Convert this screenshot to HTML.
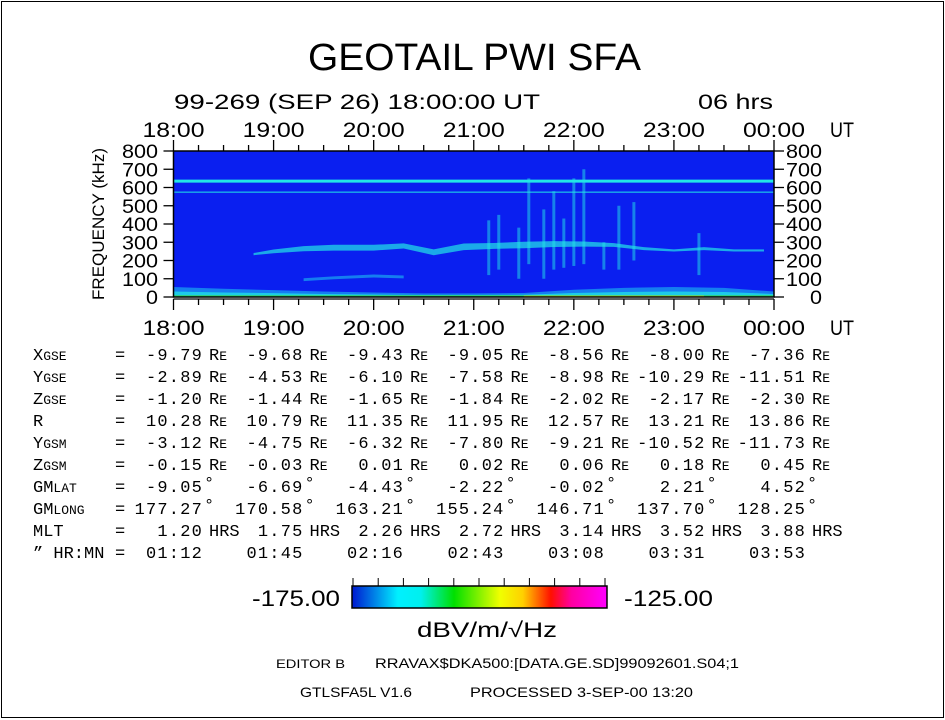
<!DOCTYPE html>
<html><head><meta charset="utf-8">
<style>
html,body{margin:0;padding:0;background:#fff;}
svg{display:block;}
text{font-family:"Liberation Sans",sans-serif;fill:#000;}
.m{font-family:"Liberation Mono",monospace;}
</style></head>
<body>
<svg id="chart" width="945" height="720" viewBox="0 0 945 720" xmlns="http://www.w3.org/2000/svg">
<rect x="1.5" y="1.5" width="942" height="716" fill="#fff" stroke="#000" stroke-width="1"/>
<text x="308" y="70" font-size="38" textLength="333" lengthAdjust="spacingAndGlyphs">GEOTAIL PWI SFA</text>
<text x="174" y="109" font-size="21" textLength="366" lengthAdjust="spacingAndGlyphs">99-269 (SEP 26) 18:00:00 UT</text>
<text x="698" y="109" font-size="21" textLength="75" lengthAdjust="spacingAndGlyphs">06 hrs</text>
<g id="plot"></g>
<g id="table"></g>
<g id="cbar"></g>
<text x="276" y="668" font-size="12" textLength="69" lengthAdjust="spacingAndGlyphs">EDITOR B</text>
<text x="375" y="668" font-size="14" textLength="364" lengthAdjust="spacingAndGlyphs">RRAVAX$DKA500:[DATA.GE.SD]99092601.S04;1</text>
<text x="300" y="697" font-size="14" textLength="112" lengthAdjust="spacingAndGlyphs">GTLSFA5L V1.6</text>
<text x="470" y="697" font-size="14" textLength="223" lengthAdjust="spacingAndGlyphs">PROCESSED  3-SEP-00  13:20</text>
</svg>
<script>
// ---- data ----
const hourLabels = ["18:00","19:00","20:00","21:00","22:00","23:00","00:00"];
const freqTicks = [0,100,200,300,400,500,600,700,800];
// main emission band (hours since 18:00, centre kHz, half-width kHz)
const bandTimes = [0.8,1.0,1.3,1.6,2.0,2.3,2.6,2.9,3.2,3.5,3.8,4.1,4.4,4.7,5.0,5.3,5.6,5.9];
const bandFreqs = [235,250,265,270,270,280,245,275,280,285,290,290,285,265,255,265,255,255];
const bandWidths = [6,10,14,16,16,14,16,18,16,18,16,14,10,8,6,8,6,6];
// low-frequency band (hours, upper kHz)
const lowTimes = [0,0.5,1.0,1.5,2.0,2.5,3.0,3.5,4.0,4.5,5.0,5.5,6.0];
const lowFreqs = [55,45,38,30,25,20,20,22,40,50,55,50,30];
// secondary band around 100 kHz
const midTimes = [1.3,1.6,2.0,2.3];
const midFreqs = [95,105,115,110];
// burst emissions: hour, low kHz, high kHz
const burstTimes = [3.15,3.25,3.45,3.55,3.7,3.8,3.9,4.0,4.1,4.3,4.45,5.25,4.6];
const burstLows = [120,150,100,180,100,150,160,170,180,150,150,120,200];
const burstHighs = [420,450,380,650,480,580,430,650,700,300,500,350,520];
// constant lines (kHz)
const lineFreqs = [635,575];
// colour bar
const cbarMin = -175, cbarMax = -125;
// ephemeris table
const rowLabels = ["X","Y","Z","R","Y","Z","GM","GM","MLT","\u201D HR:MN"];
const rowSubs = ["GSE","GSE","GSE","","GSM","GSM","LAT","LONG","",""];
const rowUnits = ["RE","RE","RE","RE","RE","RE","\u00B0","\u00B0","HRS",""];
const xgse = ["-9.79","-9.68","-9.43","-9.05","-8.56","-8.00","-7.36"];
const ygse = ["-2.89","-4.53","-6.10","-7.58","-8.98","-10.29","-11.51"];
const zgse = ["-1.20","-1.44","-1.65","-1.84","-2.02","-2.17","-2.30"];
const rvals = ["10.28","10.79","11.35","11.95","12.57","13.21","13.86"];
const ygsm = ["-3.12","-4.75","-6.32","-7.80","-9.21","-10.52","-11.73"];
const zgsm = ["-0.15","-0.03","0.01","0.02","0.06","0.18","0.45"];
const gmlat = ["-9.05","-6.69","-4.43","-2.22","-0.02","2.21","4.52"];
const gmlong = ["177.27","170.58","163.21","155.24","146.71","137.70","128.25"];
const mlt = ["1.20","1.75","2.26","2.72","3.14","3.52","3.88"];
const hrmn = ["01:12","01:45","02:16","02:43","03:08","03:31","03:53"];

// ---- axes ----
const NS="http://www.w3.org/2000/svg";
const X0=173.5, X1=774, Y0=297, Y1=151;
const xT = h => X0 + (X1-X0)*h/6;
const yF = f => Y0 - (Y0-Y1)*f/800;
function mk(tag, attrs, parent){const e=document.createElementNS(NS,tag);for(const k in attrs)e.setAttribute(k,attrs[k]);parent.appendChild(e);return e;}
const plot=document.getElementById('plot');
const BG="#0a1ff0", CY="#22e6e6", CY2="#1aa6f0";
const area=mk('rect',{x:X0,y:Y1,width:X1-X0,height:Y0-Y1,fill:BG},plot);


let p=`M${xT(lowTimes[0])},${yF(0)}`;
lowTimes.forEach((t,i)=>p+=` L${xT(t)},${yF(lowFreqs[i])}`);
p+=` L${xT(6)},${yF(0)} Z`;
const lb=mk('path',{d:p,fill:CY2,opacity:0.7},plot);


let p2=`M${xT(lowTimes[0])},${yF(0)}`;
lowTimes.forEach((t,i)=>p2+=` L${xT(t)},${yF(lowFreqs[i]*0.55)}`);
p2+=` L${xT(6)},${yF(0)} Z`;
const lb2=mk('path',{d:p2,fill:CY,opacity:0.75},plot);


const gs=mk('rect',{x:X0,y:yF(10),width:X1-X0,height:yF(0)-yF(10),fill:"#30d070"},plot);


const gs2=mk('rect',{x:xT(3.5),y:yF(7),width:xT(5.3)-xT(3.5),height:yF(0)-yF(7),fill:"#e0e020"},plot);


let p3=`M${xT(midTimes[0])},${yF(midFreqs[0])}`;
midTimes.forEach((t,i)=>p3+=` L${xT(t)},${yF(midFreqs[i]+8)}`);
for(let i=midTimes.length-1;i>=0;i--)p3+=` L${xT(midTimes[i])},${yF(midFreqs[i]-8)}`;
const mb=mk('path',{d:p3+' Z',fill:CY2,opacity:0.7},plot);


let p4=`M${xT(bandTimes[0])},${yF(bandFreqs[0]+bandWidths[0])}`;
bandTimes.forEach((t,i)=>p4+=` L${xT(t)},${yF(bandFreqs[i]+bandWidths[i])}`);
for(let i=bandTimes.length-1;i>=0;i--)p4+=` L${xT(bandTimes[i])},${yF(bandFreqs[i]-bandWidths[i])}`;
const mbd=mk('path',{d:p4+' Z',fill:CY,opacity:0.7},plot);


burstTimes.forEach((t,i)=>{
  const b=mk('rect',{x:xT(t)-1.5,y:yF(burstHighs[i]),width:3,height:yF(burstLows[i])-yF(burstHighs[i]),fill:CY,opacity:0.5},plot);
  
  
});
lineFreqs.forEach((f,i)=>{
  const l=mk('line',{x1:X0,x2:X1,y1:yF(f),y2:yF(f),stroke:CY,'stroke-width':i===0?3:1},plot);
  
  
});
const fr=mk('rect',{x:X0,y:Y1,width:X1-X0,height:Y0-Y1,fill:'none',stroke:'#000','stroke-width':1.5},plot);


for(let q=0;q<=24;q++){
  const h=q/4, maj=q%4===0, x=xT(h);
  const t1=mk('line',{x1:x,x2:x,y1:Y1-(maj?11:6),y2:Y1,stroke:'#000','stroke-width':1.3},plot);
  
  
  const t2=mk('line',{x1:x,x2:x,y1:Y0+2,y2:Y0+2+(maj?11:6),stroke:'#000','stroke-width':1.3},plot);
  
  
}
const base=mk('line',{x1:X0,x2:X1,y1:Y0+2,y2:Y0+2,stroke:'#000','stroke-width':1.3},plot);


hourLabels.forEach((s,i)=>{
  [137,335].forEach((y,j)=>{
    const t=mk('text',{x:xT(i)-31,y:y,'font-size':21,textLength:62,lengthAdjust:'spacingAndGlyphs'},plot);
    t.textContent=s;
    
    
  });
});
[137,335].forEach(y=>{
  const t=mk('text',{x:830,y:y,'font-size':21,textLength:24,lengthAdjust:'spacingAndGlyphs'},plot);t.textContent='UT';
  
  
});
freqTicks.forEach(f=>{
  const y=yF(f);
  const a=mk('line',{x1:X0-10,x2:X0,y1:y,y2:y,stroke:'#000','stroke-width':1.3},plot);
  
  
  const b=mk('line',{x1:X1,x2:X1+10,y1:y,y2:y,stroke:'#000','stroke-width':1.3},plot);
  
  
  const w=String(f).length*12;
  const t=mk('text',{x:158-w,y:y+7,'font-size':19,textLength:w,lengthAdjust:'spacingAndGlyphs'},plot);t.textContent=f;
  
  
  const t2=mk('text',{x:822-w,y:y+7,'font-size':19,textLength:w,lengthAdjust:'spacingAndGlyphs'},plot);t2.textContent=f;
  
  
});
const yl=mk('text',{x:0,y:0,'font-size':17,'text-anchor':'middle',transform:`translate(104,224) rotate(-90)`,textLength:152,lengthAdjust:'spacingAndGlyphs'},plot);
yl.textContent='FREQUENCY (kHz)';



// ---- table ----
const tbl=document.getElementById('table');
const rows=[xgse,ygse,zgse,rvals,ygsm,zgsm,gmlat,gmlong,mlt,hrmn];
rows.forEach((vals,r)=>{
  const y=360+r*22;
  const l=mk('text',{x:33,y:y,'font-size':17,'class':'m'},tbl);
  l.textContent=rowLabels[r];
  if(rowSubs[r]){const s=mk('tspan',{'font-size':13},l);s.textContent=rowSubs[r];}
  
  
  const eq=mk('text',{x:115,y:y,'font-size':17,'class':'m'},tbl);eq.textContent='=';
  
  
  vals.forEach((v,c)=>{
    const xe=203+c*100.5;
    const t=mk('text',{x:xe,y:y,'font-size':17,'class':'m','text-anchor':'end','letter-spacing':1.2},tbl);
    t.textContent=v;
    
    
    const u=rowUnits[r];
    if(u){
      const ut=mk('text',{x:u==='\u00B0'?xe+1:xe+6,y:u==='\u00B0'?y-4:y,'font-size':17,'class':'m'},tbl);
      ut.textContent=u==='RE'?'R':u;
      if(u==='RE'){const s=mk('tspan',{'font-size':13},ut);s.textContent='E';}
      
      
    }
  });
});

// ---- colour bar ----
const cb=document.getElementById('cbar');
const defs=mk('defs',{},cb);
const g=mk('linearGradient',{id:'grad',x1:0,x2:1,y1:0,y2:0},defs);
[["0","#0018d0"],["0.18","#00f0ff"],["0.27","#00f0ee"],["0.4","#00e000"],["0.58","#f0ff00"],["0.67","#ffd000"],["0.78","#ff1000"],["0.86","#ff00a0"],["1","#ff00ff"]].forEach(s=>mk('stop',{offset:s[0],'stop-color':s[1]},g));
const cbr=mk('rect',{x:352,y:586,width:255,height:22,fill:'url(#grad)',stroke:'#000','stroke-width':1.5},cb);


for(let i=0;i<=10;i++){
  const x=353+(605-353)*i/10;
  const tk=mk('line',{x1:x,x2:x,y1:578,y2:586,stroke:'#000','stroke-width':1},cb);
  
  
}
const lmin=mk('text',{x:252,y:606,'font-size':22,textLength:88,lengthAdjust:'spacingAndGlyphs'},cb);lmin.textContent=cbarMin.toFixed(2);


const lmax=mk('text',{x:624,y:606,'font-size':22,textLength:89,lengthAdjust:'spacingAndGlyphs'},cb);lmax.textContent=cbarMax.toFixed(2);


const un=mk('text',{x:417,y:637,'font-size':21,textLength:140,lengthAdjust:'spacingAndGlyphs'},cb);un.textContent='dBV/m/\u221AHz';


</script>
</body></html>
